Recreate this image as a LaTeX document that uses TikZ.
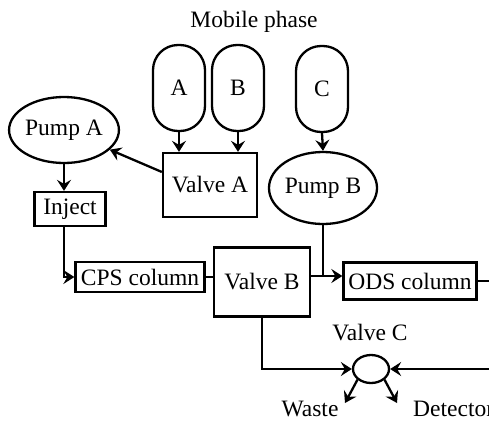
\documentclass[tikz,border=0pt]{standalone}
\usepackage{fontspec}
\setmainfont{Liberation Serif}
\usetikzlibrary{shapes.geometric,arrows.meta,calc}
\begin{document}
\begin{tikzpicture}[x=1pt,y=-1pt,
  every node/.style={font=\fontsize{23.5}{27}\selectfont, inner sep=0pt},
  ln/.style={line width=2.3pt},
  arr/.style={ln,-{Stealth[length=11pt,width=14pt,inset=4pt]}},
  capsule/.style={draw, line width=2.3pt, rounded corners=25pt, minimum width=52pt, minimum height=86pt},
  box/.style={draw, line width=2.3pt, rectangle},
  oval/.style={draw, line width=2.3pt, ellipse}]
\clip (0,0) rectangle (489,421);
\fill[white] (0,0) rectangle (489,421);
\node (mp) at (254,22) {Mobile phase};
\node[capsule] (A) at (179,88) {A};
\node[capsule] (B) at (238,88) {B};
\node[capsule] (C) at (322,89) {C};
\node[box, minimum width=94pt, minimum height=64pt] (valveA) at (210,185) {Valve A};
\node[oval, minimum width=102pt, minimum height=66pt] (pumpA) at (64,130) {Pump A};
\node[box, minimum width=71pt, minimum height=34pt] (inject) at (70,209) {Inject};
\node[box, minimum width=129pt, minimum height=30pt] (cps) at (140,277) {CPS column};
\node[box, minimum width=96pt, minimum height=69pt] (valveB) at (262,282) {Valve B};
\node[oval, minimum width=100pt, minimum height=72pt] (pumpB) at (323,188) {Pump B};
\node[box, minimum width=133pt, minimum height=37pt] (ods) at (410,281) {ODS column};
\node[oval, minimum width=36pt, minimum height=28pt] (valveC) at (371,369) {};
\node (vclabel) at (370,333) {Valve C};
\node (waste) at (310,409) {Waste};
\node[anchor=west] (det) at (413,409) {Detector};
\coordinate (va) at ($(valveA.west)+(0,-13)$);
\coordinate (j) at (323,276);
\coordinate (odsout) at (495,281);
\coordinate (cin) at (495,369);
\coordinate (wend) at (345,403);
\coordinate (dend) at (397,403);
\draw[arr] (A.south) -- (A.south |- valveA.north);
\draw[arr] (B.south) -- (B.south |- valveA.north);
\draw[arr] (C.south) -- (pumpB.north);
\draw[arr] (va) -- (pumpA);
\draw[arr] (pumpA.south) -- (pumpA.south |- inject.north);
\draw[arr] (inject.south -| pumpA.south) |- (cps.west);
\draw[ln] (cps.east) -- (cps.east -| valveB.west);
\draw[ln] (pumpB.south) -- (j);
\draw[arr] (valveB.east |- j) -- (ods.west |- j);
\draw[ln] (ods.east) -- (odsout);
\draw[arr] (valveB.south) |- (valveC.west);
\draw[arr] (cin) -- (valveC.east);
\draw[arr] (valveC.south west) -- (wend);
\draw[arr] (valveC.south east) -- (dend);
\end{tikzpicture}
\end{document}
